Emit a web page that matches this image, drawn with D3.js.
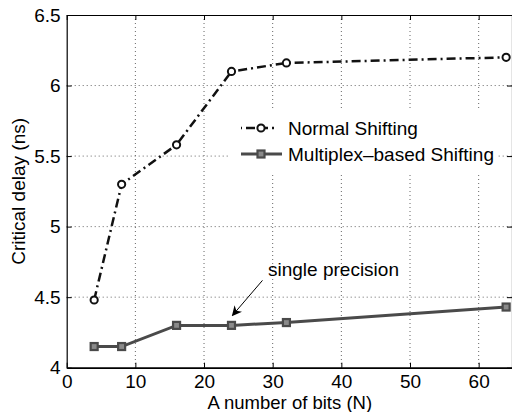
<!DOCTYPE html>
<html><head><meta charset="utf-8">
<script src="https://cdn.jsdelivr.net/npm/d3@7"></script>
<style>
html,body{margin:0;padding:0;background:#fff;}
svg{display:block;font-family:"Liberation Sans",Arial,Helvetica,sans-serif;}
</style></head>
<body><svg id="c" width="512" height="412"></svg>
<script>
const bits = [4, 8, 16, 24, 32, 64];
const normalDelay = [4.48, 5.30, 5.58, 6.10, 6.16, 6.20];
const muxDelay = [4.15, 4.15, 4.30, 4.30, 4.32, 4.43];
const xTicks = [0, 10, 20, 30, 40, 50, 60];
const yTicks = [4, 4.5, 5, 5.5, 6, 6.5];
const seriesNames = ["Normal Shifting", "Multiplex\u2013based Shifting"];
const annotation = {text: "single precision", x: 24, y: 4.30};

const svg = d3.select("#c");
const L = 66.7, R = 513, T = 15, B = 367.7;
const x = d3.scaleLinear().domain([0, 65]).range([L, R]);
const y = d3.scaleLinear().domain([4, 6.5]).range([B, T]);
const fs = 19;

// grid
const g = svg.append("g");
g.selectAll(".gx").data(xTicks.filter(d => d > 0)).join("line")
  .attr("x1", d => x(d)).attr("x2", d => x(d)).attr("y1", T).attr("y2", B)
  .attr("stroke", "#666").attr("stroke-width", 1).attr("stroke-dasharray", "1,3");
g.selectAll(".gy").data(yTicks.filter(d => d > 4 && d < 6.5)).join("line")
  .attr("x1", L).attr("x2", R).attr("y1", d => y(d)).attr("y2", d => y(d))
  .attr("stroke", "#666").attr("stroke-width", 1).attr("stroke-dasharray", "1,3");

// axes
const xAxis = d3.axisBottom(x).tickValues(xTicks).tickSizeInner(-5).tickSizeOuter(0).tickPadding(7).tickFormat(d3.format("d"));
const ax = svg.append("g").attr("transform", `translate(0,${B})`).call(xAxis);
const yAxis = d3.axisLeft(y).tickValues(yTicks).tickSizeInner(-5).tickSizeOuter(0).tickPadding(6).tickFormat(d => d3.format("~g")(d));
const ay = svg.append("g").attr("transform", `translate(${L},0)`).call(yAxis);
const xTop = d3.axisTop(x).tickValues(xTicks).tickSizeInner(-5).tickSizeOuter(0).tickFormat("");
svg.append("g").attr("transform", `translate(0,${T})`).call(xTop);
const yRight = d3.axisRight(y).tickValues(yTicks).tickSizeInner(-5).tickSizeOuter(0).tickFormat("");
svg.append("g").attr("transform", `translate(${R - 1},0)`).call(yRight);
svg.selectAll(".domain").attr("stroke", "#000").attr("stroke-width", 1.2);
ax.select(".domain").attr("stroke-width", 1.8);
svg.selectAll(".tick line").attr("stroke", "#000");
svg.selectAll(".tick text").attr("font-size", fs).attr("fill", "#000").attr("font-family", "Liberation Sans, Arial, sans-serif");
ax.selectAll(".tick text").attr("dy", "0.71em");

// axis titles
svg.append("text").attr("x", (L + R) / 2).attr("y", 408.5).attr("text-anchor", "middle")
  .attr("font-size", 18.5).text("A number of bits (N)");
svg.append("text").attr("transform", `translate(25,${(T + B) / 2}) rotate(-90)`)
  .attr("text-anchor", "middle").attr("font-size", fs).text("Critical delay (ns)");

// lines
const normalData = bits.map((b, i) => [b, normalDelay[i]]);
const muxData = bits.map((b, i) => [b, muxDelay[i]]);
const line = d3.line().x(d => x(d[0])).y(d => y(d[1]));
const normalColor = "#111", muxColor = "#4a4a4a";
svg.append("path").datum(muxData).attr("d", line).attr("fill", "none")
  .attr("stroke", muxColor).attr("stroke-width", 3);
svg.append("path").datum(normalData).attr("d", line).attr("fill", "none")
  .attr("stroke", normalColor).attr("stroke-width", 2.5).attr("stroke-dasharray", "9,4,2,4");

function square(sel, cx, cy) {
  sel.append("rect").attr("x", cx - 3.5).attr("y", cy - 3.5).attr("width", 7).attr("height", 7)
    .attr("fill", "#8a8a8a").attr("stroke", muxColor).attr("stroke-width", 2.2);
}
function circle(sel, cx, cy) {
  sel.append("circle").attr("cx", cx).attr("cy", cy).attr("r", 3.6)
    .attr("fill", "#fff").attr("stroke", normalColor).attr("stroke-width", 2);
}
const mk = svg.append("g");
muxData.forEach(d => square(mk, x(d[0]), y(d[1])));
normalData.forEach(d => circle(mk, x(d[0]), y(d[1])));

// legend
const lg = svg.append("g");
lg.append("rect").attr("x", 230).attr("y", 108).attr("width", 268).attr("height", 64).attr("fill", "#fff");
const rows = [128, 154];
lg.append("line").attr("x1", 241).attr("x2", 282).attr("y1", rows[0]).attr("y2", rows[0])
  .attr("stroke", normalColor).attr("stroke-width", 2.5).attr("stroke-dasharray", "1,4,9,4,9,4,2,20");
circle(lg, 261, rows[0]);
lg.append("line").attr("x1", 241).attr("x2", 282).attr("y1", rows[1]).attr("y2", rows[1])
  .attr("stroke", muxColor).attr("stroke-width", 3);
square(lg, 261, rows[1]);
seriesNames.forEach((n, i) => {
  lg.append("text").attr("x", 288).attr("y", rows[i]).attr("dy", "0.35em")
    .attr("font-size", fs).attr("fill", "#000").text(n);
});

// annotation
svg.append("defs").append("marker").attr("id", "ah").attr("viewBox", "0 0 10 10")
  .attr("refX", 9).attr("refY", 5).attr("markerWidth", 10).attr("markerHeight", 10)
  .attr("markerUnits", "userSpaceOnUse").attr("orient", "auto")
  .append("path").attr("d", "M0,0 L10,5 L0,10 L3,5 Z").attr("fill", "#000");
const ax0 = x(annotation.x), ay0 = y(annotation.y);
svg.append("line").attr("x1", ax0 + 31).attr("y1", ay0 - 45).attr("x2", ax0 + 1).attr("y2", ay0 - 10)
  .attr("stroke", "#000").attr("stroke-width", 1).attr("marker-end", "url(#ah)");
svg.append("text").attr("x", 268).attr("y", 276).attr("font-size", fs).attr("fill", "#000").text(annotation.text);
</script></body></html>
